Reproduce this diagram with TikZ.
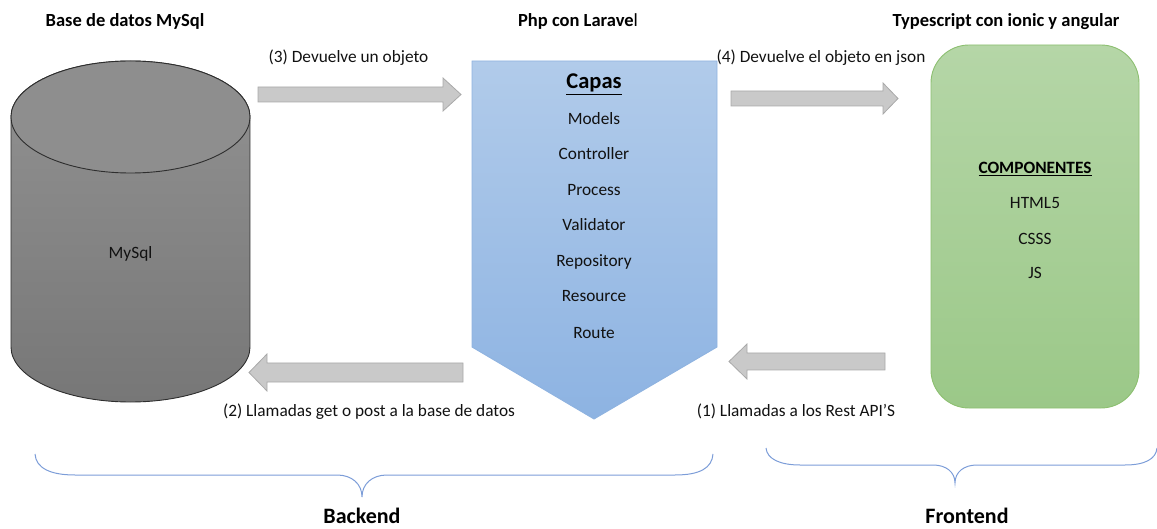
\documentclass[tikz,border=0pt]{standalone}
\usepackage{fontspec}
\setmainfont{Carlito}
\newcommand\myfs[1]{\fontsize{#1}{#1}\selectfont}
\definecolor{arrowfill}{HTML}{C9C9C9}
\definecolor{arrowline}{HTML}{A9A9A9}
\definecolor{cylline}{HTML}{2E2E2E}
\definecolor{cyltop}{HTML}{8E8E8E}
\definecolor{cylA}{HTML}{929292}
\definecolor{cylB}{HTML}{777777}
\definecolor{blueA}{HTML}{B1CBEA}
\definecolor{blueB}{HTML}{8DB3E2}
\definecolor{blueline}{HTML}{8FB3E0}
\definecolor{greenA}{HTML}{B5D6A7}
\definecolor{greenB}{HTML}{9BC888}
\definecolor{greenline}{HTML}{8CBF70}
\definecolor{bracecol}{HTML}{7C9DD8}
\definecolor{txt}{HTML}{111111}
\begin{document}
\begin{tikzpicture}[x=1pt,y=-1pt,
  lbl/.style={font=\myfs{17.3}, text=txt, inner sep=0pt, anchor=base},
  ttl/.style={font=\myfs{18.5}\bfseries, text=black, inner sep=0pt, anchor=base},
  big/.style={font=\myfs{22}\bfseries, text=black, inner sep=0pt, anchor=base},
  blockarrow/.style={fill=arrowfill, draw=arrowline, line width=0.8pt},
  bracestyle/.style={draw=bracecol, line width=1pt}]
\useasboundingbox (0,0) rectangle (1157,529);

% cylinder (database)
\path[top color=cylA, bottom color=cylB, draw=cylline, line width=0.9pt]
  (11,117) -- (11,347) arc[start angle=180, end angle=0, x radius=119.5, y radius=55]
  -- (250,117) arc[start angle=0, end angle=-180, x radius=119.5, y radius=56] -- cycle;
\path[fill=cyltop, draw=cylline, line width=0.9pt] (130.5,117) ellipse[x radius=119.5, y radius=56];
\node[lbl] (mysql) at (130.5,259) {MySql};

% pentagon (Laravel)
\path[top color=blueA, bottom color=blueB, draw=blueline, line width=0.9pt]
  (472,61) -- (717,61) -- (717,347) -- (594,419) -- (472,347) -- cycle;
\node[font=\myfs{22.5}\bfseries, text=black, inner sep=0pt, anchor=base] (capas) at (594,89) {\underline{Capas}};
\node[lbl] (models) at (594,125) {Models};
\node[lbl] (controller) at (594,160) {Controller};
\node[lbl] (process) at (594,196) {Process};
\node[lbl] (validator) at (594,231) {Validator};
\node[lbl] (repository) at (594,267) {Repository};
\node[lbl] (resource) at (594,302) {Resource};
\node[lbl] (route) at (594,338) {Route};

% green rounded box (frontend)
\path[top color=greenA, bottom color=greenB, draw=greenline, line width=0.9pt, rounded corners=38pt]
  (931,45) rectangle (1139,408);
\node[font=\myfs{17.3}\bfseries, text=black, inner sep=0pt, anchor=base] (comp) at (1035,174) {\underline{COMPONENTES}};
\node[lbl] (html) at (1035,209) {HTML5};
\node[lbl] (csss) at (1035,245) {CSSS};
\node[lbl] (js) at (1035,279) {JS};

% titles
\node[ttl] (t1) at (125,27) {Base de datos MySql};
\node[ttl] (t2) at (578,27) {Php con Larave\mdseries l};
\node[ttl] (t3) at (1006,27) {Typescript con ionic y angular};

% block arrows
\path[blockarrow] (258,87) -- (443,87) -- (443,78) -- (461,94.5) -- (443,111) -- (443,102) -- (258,102) -- cycle;
\path[blockarrow] (731,91) -- (883,91) -- (883,83) -- (898,98.5) -- (883,114) -- (883,106) -- (731,106) -- cycle;
\path[blockarrow] (463,363) -- (267,363) -- (267,354) -- (249,372.5) -- (267,391) -- (267,382) -- (463,382) -- cycle;
\path[blockarrow] (885,353) -- (747,353) -- (747,344) -- (729,361.5) -- (747,379) -- (747,370) -- (885,370) -- cycle;

% arrow labels
\node[lbl] (l3) at (348.5,63) {(3) Devuelve un objeto};
\node[lbl] (l4) at (821,63) {(4) Devuelve el objeto en json};
\node[lbl] (l2) at (369,416) {(2) Llamadas get o post a la base de datos};
\node[lbl] (l1) at (796,416) {(1) Llamadas a los Rest API’S};

% braces
\path[bracestyle] (35,454) .. controls (36,468) and (50,475) .. (75,475) -- (337,475)
  .. controls (352,475) and (362,484) .. (362,497)
  .. controls (362,484) and (372,475) .. (387,475) -- (675,475)
  .. controls (700,475) and (712,468) .. (713,454);
\path[bracestyle] (766,448) .. controls (767,459) and (780,465) .. (800,465) -- (933,465)
  .. controls (946,465) and (955,472) .. (955,483)
  .. controls (955,472) and (964,465) .. (977,465) -- (1125,465)
  .. controls (1145,465) and (1156,459) .. (1157,448);
\node[big] (backend) at (362,523) {Backend};
\node[big] (frontend) at (967,523) {Frontend};
\end{tikzpicture}
\end{document}
